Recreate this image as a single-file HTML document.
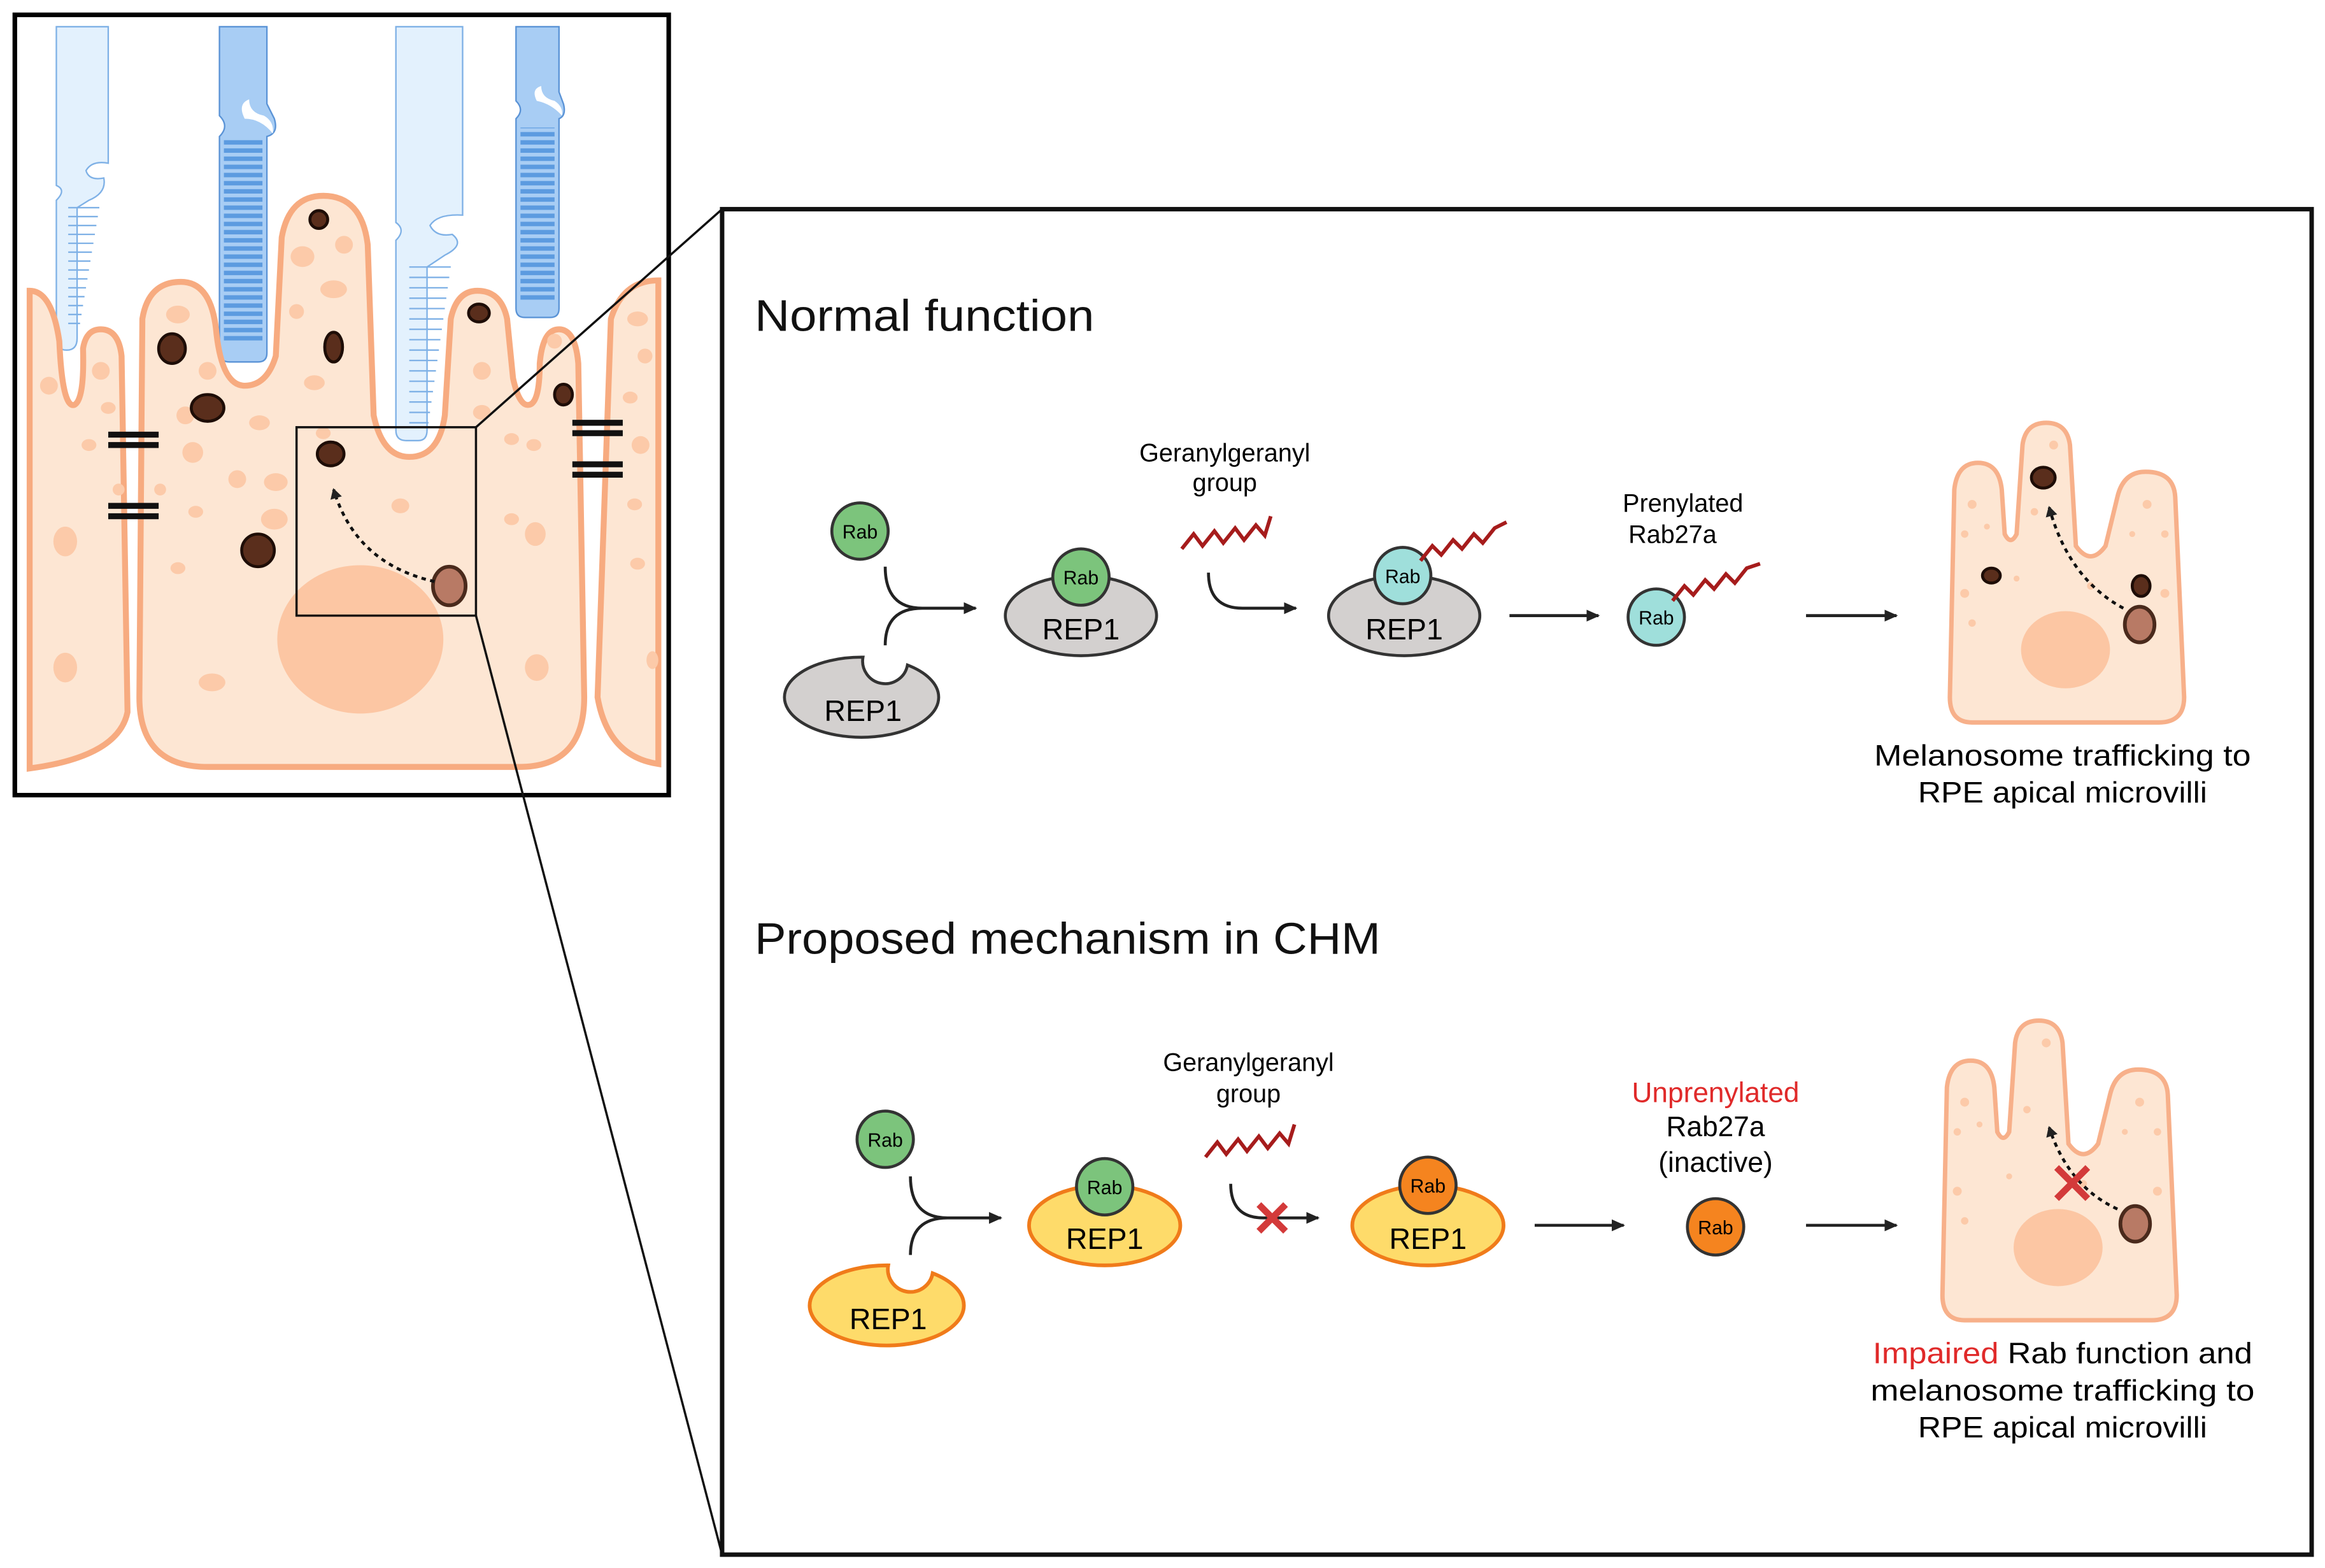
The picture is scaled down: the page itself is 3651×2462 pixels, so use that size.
<!DOCTYPE html>
<html><head><meta charset="utf-8"><style>html,body{margin:0;padding:0;background:#fff}svg{display:block}</style></head>
<body>
<svg width="3651" height="2462" viewBox="0 0 1568 1057" preserveAspectRatio="none" xmlns="http://www.w3.org/2000/svg" font-family="Liberation Sans, sans-serif">
<defs>
<marker id="ah" markerWidth="10" markerHeight="10" refX="8" refY="5" orient="auto" markerUnits="userSpaceOnUse"><path d="M0,1 L9,5 L0,9 Z" fill="#222"/></marker>
<marker id="ah2" markerWidth="8" markerHeight="8" refX="6" refY="4" orient="auto" markerUnits="userSpaceOnUse"><path d="M0,0 L7,4 L0,8 Z" fill="#222"/></marker>
<pattern id="cone" width="10" height="5.5" patternUnits="userSpaceOnUse"><rect width="10" height="5.5" fill="#a8cdf4"/><rect y="1" width="10" height="3" fill="#5c9be0"/></pattern>
<g id="cell">
<path d="M1330,487 Q1315,487 1315,470 L1318,330 Q1320,312 1334,312 Q1348,312 1350,330 L1352,360 Q1356,368 1360,360 L1364,300 Q1366,285 1380,285 Q1394,285 1396,300 L1400,368 Q1410,382 1420,368 L1428,335 Q1432,318 1447,318 Q1466,318 1467,335 L1473,470 Q1473,487 1456,487 Z" fill="#fde6d3" stroke="#f7b08a" stroke-width="3"/>
<g fill="#fccaa9"><circle cx="1330" cy="340" r="3"/><circle cx="1325" cy="360" r="2.5"/><circle cx="1340" cy="355" r="2"/><circle cx="1385" cy="300" r="3"/><circle cx="1372" cy="345" r="2.5"/><circle cx="1448" cy="340" r="3"/><circle cx="1460" cy="360" r="2.5"/><circle cx="1438" cy="360" r="2"/><circle cx="1325" cy="400" r="3"/><circle cx="1330" cy="420" r="2.5"/><circle cx="1460" cy="400" r="3"/><circle cx="1360" cy="390" r="2"/><circle cx="1410" cy="395" r="2.5"/></g>
<ellipse cx="1393" cy="438" rx="30" ry="26" fill="#fcc6a3"/>
</g>
</defs>

<!-- LEFT PANEL -->
<rect x="10" y="10" width="441" height="526" fill="#fff" stroke="#000" stroke-width="3"/>
<path d="M38,18 L38,125 Q45,128 38,135 L38,228 Q38,236 45,236 Q52,236 52,228 L52,140 L60,135 Q72,130 70,120 Q60,122 58,115 Q62,108 73,110 L73,18 Z" fill="#e3f1fd" stroke="#7fb1e6" stroke-width="1"/>
<g stroke="#7fb1e6" stroke-width="1" fill="none"><path d="M46,140 H67 M46,146 H66 M46,152 H65 M46,158 H64 M46,164 H63 M46,170 H62 M46,176 H61 M46,182 H60 M46,188 H59 M46,194 H58 M46,200 H57 M46,206 H56 M46,212 H55 M46,218 H54"/></g>
<path d="M148,18 L148,78 Q155,85 148,92 L148,238 Q148,244 155,244 L174,244 Q180,244 180,238 L180,92 Q188,90 185,80 L180,70 L180,18 Z" fill="#a8cdf4" stroke="#5a93d6" stroke-width="1"/>
<rect x="151" y="94" width="26" height="136" fill="url(#cone)"/>
<path d="M165,80 Q160,70 168,67 Q168,76 178,78 Q185,82 184,90 Q176,80 165,80Z" fill="#fff"/>
<path d="M267,18 L267,150 Q274,155 267,162 L267,290 Q267,297 274,297 L282,297 Q288,297 288,290 L288,180 L300,172 Q314,165 305,158 Q294,160 290,152 Q295,144 312,145 L312,18 Z" fill="#e3f1fd" stroke="#7fb1e6" stroke-width="1"/>
<g stroke="#7fb1e6" stroke-width="1" fill="none"><path d="M276,180 H304 M276,187 H303 M276,194 H302 M276,201 H301 M276,208 H300 M276,215 H299 M276,222 H298 M276,229 H297 M276,236 H296 M276,243 H295 M276,250 H294 M276,257 H293 M276,264 H292 M276,271 H291 M276,278 H290 M276,285 H289"/></g>
<path d="M348,18 L348,68 Q354,74 348,80 L348,208 Q348,214 354,214 L371,214 Q377,214 377,208 L377,80 Q382,78 380,70 L377,62 L377,18 Z" fill="#a8cdf4" stroke="#5a93d6" stroke-width="1"/>
<rect x="351" y="86" width="23" height="118" fill="url(#cone)"/>
<path d="M362,68 Q358,60 365,58 Q365,66 374,68 Q380,72 379,78 Q372,70 362,68Z" fill="#fff"/>
<path d="M20,196 Q35,196 40,230 Q42,275 50,273 Q57,270 56,235 Q58,222 68,222 Q80,222 82,240 L86,480 Q80,510 20,518 Z" fill="#fde6d3" stroke="#f7ab80" stroke-width="4"/>
<path d="M444,189 Q420,189 412,215 L403,470 Q410,510 444,515 Z" fill="#fde6d3" stroke="#f7ab80" stroke-width="4"/>
<path d="M94,470 L96,215 Q100,190 122,190 Q143,190 146,225 Q150,260 165,260 Q180,260 186,240 L190,160 Q195,132 218,132 Q244,132 248,165 L252,280 Q258,308 276,308 Q296,308 300,280 L304,215 Q308,196 322,196 Q338,196 342,215 L346,255 Q350,273 356,273 Q364,273 364,245 Q366,222 377,222 Q388,222 390,245 L394,470 Q394,517 350,517 L140,517 Q94,517 94,470 Z" fill="#fde6d3" stroke="#f7ab80" stroke-width="4"/>
<g fill="#fccaa9">
<ellipse cx="44" cy="365" rx="8" ry="10"/><ellipse cx="44" cy="450" rx="8" ry="10"/><ellipse cx="33" cy="260" rx="6" ry="6"/><ellipse cx="68" cy="250" rx="6" ry="6"/><ellipse cx="60" cy="300" rx="5" ry="4"/><ellipse cx="73" cy="275" rx="5" ry="4"/><ellipse cx="80" cy="330" rx="4" ry="4"/>
<ellipse cx="120" cy="212" rx="8" ry="6"/><ellipse cx="204" cy="173" rx="8" ry="7"/><ellipse cx="225" cy="195" rx="9" ry="6"/><ellipse cx="232" cy="165" rx="6" ry="6"/><ellipse cx="200" cy="210" rx="5" ry="5"/><ellipse cx="212" cy="258" rx="7" ry="5"/><ellipse cx="140" cy="250" rx="6" ry="6"/><ellipse cx="125" cy="280" rx="6" ry="6"/><ellipse cx="130" cy="305" rx="7" ry="7"/><ellipse cx="160" cy="323" rx="6" ry="6"/><ellipse cx="175" cy="285" rx="7" ry="5"/><ellipse cx="186" cy="325" rx="8" ry="6"/><ellipse cx="132" cy="345" rx="5" ry="4"/><ellipse cx="185" cy="350" rx="9" ry="7"/><ellipse cx="120" cy="383" rx="5" ry="4"/><ellipse cx="143" cy="460" rx="9" ry="6"/><ellipse cx="218" cy="292" rx="5" ry="4"/><ellipse cx="270" cy="341" rx="6" ry="5"/><ellipse cx="108" cy="330" rx="4" ry="4"/>
<ellipse cx="325" cy="250" rx="6" ry="6"/><ellipse cx="325" cy="278" rx="6" ry="5"/><ellipse cx="345" cy="296" rx="5" ry="4"/><ellipse cx="360" cy="300" rx="5" ry="4"/><ellipse cx="345" cy="350" rx="5" ry="4"/><ellipse cx="361" cy="360" rx="7" ry="8"/><ellipse cx="362" cy="450" rx="8" ry="9"/><ellipse cx="374" cy="230" rx="5" ry="5"/>
<ellipse cx="430" cy="215" rx="7" ry="5"/><ellipse cx="435" cy="240" rx="5" ry="5"/><ellipse cx="425" cy="268" rx="5" ry="4"/><ellipse cx="432" cy="300" rx="6" ry="6"/><ellipse cx="428" cy="340" rx="5" ry="4"/><ellipse cx="430" cy="380" rx="5" ry="4"/><ellipse cx="440" cy="445" rx="4" ry="6"/>
</g>
<ellipse cx="243" cy="431" rx="56" ry="50" fill="#fcc6a3"/>
<g fill="#5a2e1c" stroke="#1e0d06" stroke-width="2">
<ellipse cx="215" cy="148" rx="6" ry="6"/><ellipse cx="116" cy="235" rx="9" ry="10"/><ellipse cx="225" cy="234" rx="6" ry="10"/><ellipse cx="140" cy="275" rx="11" ry="9"/><ellipse cx="323" cy="211" rx="7" ry="6"/><ellipse cx="380" cy="266" rx="6" ry="7"/><ellipse cx="223" cy="306" rx="9" ry="8"/><ellipse cx="174" cy="371" rx="11" ry="11"/>
</g>
<ellipse cx="303" cy="395" rx="11" ry="13" fill="#b87a65" stroke="#4a2a1c" stroke-width="2.5"/>
<path d="M293,392 Q240,380 225,330" fill="none" stroke="#111" stroke-width="2" stroke-dasharray="3,3" marker-end="url(#ah2)"/>
<g fill="#111"><rect x="73" y="291" width="34" height="4"/><rect x="73" y="298" width="34" height="4"/><rect x="73" y="339" width="34" height="4"/><rect x="73" y="346" width="34" height="4"/><rect x="386" y="283" width="34" height="4"/><rect x="386" y="290" width="34" height="4"/><rect x="386" y="311" width="34" height="4"/><rect x="386" y="318" width="34" height="4"/></g>
<rect x="10" y="10" width="441" height="526" fill="none" stroke="#000" stroke-width="3"/>
<rect x="200" y="288" width="121" height="127" fill="none" stroke="#111" stroke-width="1.5"/>
<line x1="321" y1="288" x2="487" y2="141" stroke="#111" stroke-width="1.5"/>
<line x1="321" y1="415" x2="487" y2="1048" stroke="#111" stroke-width="1.5"/>

<!-- RIGHT PANEL -->
<rect x="487" y="141" width="1072" height="907" fill="#fff" stroke="#111" stroke-width="3"/>
<text x="509" y="223" font-size="30" fill="#111" textLength="229" lengthAdjust="spacingAndGlyphs">Normal function</text>
<text x="509" y="643" font-size="30" fill="#111" textLength="422" lengthAdjust="spacingAndGlyphs">Proposed mechanism in CHM</text>

<!-- Row 1 -->
<circle cx="580" cy="358" r="19" fill="#7cc47c" stroke="#333" stroke-width="2"/><text x="580" y="363" font-size="13" text-anchor="middle">Rab</text>
<path d="M612,448.3 A52,27 0 1,1 582,443 A15,15 0 0,0 612,448.3 Z" fill="#d3d0cf" stroke="#333" stroke-width="2"/>
<text x="582" y="486" font-size="20" text-anchor="middle">REP1</text>
<path d="M597,382 Q597,410 622,410 M597,435 Q597,410 622,410 L658,410" fill="none" stroke="#222" stroke-width="2" marker-end="url(#ah)"/>
<ellipse cx="729" cy="415" rx="51" ry="27" fill="#d3d0cf" stroke="#333" stroke-width="2"/>
<circle cx="729" cy="389" r="19" fill="#7cc47c" stroke="#333" stroke-width="2"/><text x="729" y="394" font-size="13" text-anchor="middle">Rab</text>
<text x="729" y="431" font-size="20" text-anchor="middle">REP1</text>
<text x="826" y="311" font-size="17" text-anchor="middle">Geranylgeranyl</text><text x="826" y="331" font-size="17" text-anchor="middle">group</text>
<polyline points="797,370 805,360 811,368 819,358 825,366 833,356 839,364 847,354 853,361 857,348" fill="none" stroke="#a61c1c" stroke-width="2.5"/>
<path d="M815,386 Q815,410 838,410 L874,410" fill="none" stroke="#222" stroke-width="2" marker-end="url(#ah)"/>
<ellipse cx="947" cy="415" rx="51" ry="27" fill="#d3d0cf" stroke="#333" stroke-width="2"/>
<circle cx="946" cy="388" r="19" fill="#9fdfdb" stroke="#333" stroke-width="2"/><text x="946" y="393" font-size="13" text-anchor="middle">Rab</text>
<polyline points="958,378 966,368 972,374 980,364 986,370 994,360 1000,366 1008,356 1016,352" fill="none" stroke="#a61c1c" stroke-width="2.5"/>
<text x="947" y="431" font-size="20" text-anchor="middle">REP1</text>
<line x1="1018" y1="415" x2="1078" y2="415" stroke="#222" stroke-width="2" marker-end="url(#ah)"/>
<text x="1135" y="345" font-size="17" text-anchor="middle">Prenylated</text><text x="1128" y="366" font-size="17" text-anchor="middle">Rab27a</text>
<circle cx="1117" cy="416" r="19" fill="#9fdfdb" stroke="#333" stroke-width="2"/><text x="1117" y="421" font-size="13" text-anchor="middle">Rab</text>
<polyline points="1128,405 1136,395 1142,401 1150,391 1156,397 1164,387 1170,393 1178,383 1187,380" fill="none" stroke="#a61c1c" stroke-width="2.5"/>
<line x1="1218" y1="415" x2="1279" y2="415" stroke="#222" stroke-width="2" marker-end="url(#ah)"/>
<use href="#cell"/>
<g fill="#5a2e1c" stroke="#1e0d06" stroke-width="2"><ellipse cx="1378" cy="322" rx="8" ry="7"/><ellipse cx="1343" cy="388" rx="6" ry="5"/><ellipse cx="1444" cy="395" rx="6" ry="7"/></g>
<ellipse cx="1443" cy="421" rx="10" ry="12" fill="#b87a65" stroke="#4a2a1c" stroke-width="2.5"/>
<path d="M1432,410 Q1395,390 1382,342" fill="none" stroke="#111" stroke-width="2" stroke-dasharray="3,3" marker-end="url(#ah2)"/>
<text x="1391" y="516" font-size="20" text-anchor="middle" textLength="254" lengthAdjust="spacingAndGlyphs">Melanosome trafficking to</text>
<text x="1391" y="541" font-size="20" text-anchor="middle" textLength="195" lengthAdjust="spacingAndGlyphs">RPE apical microvilli</text>

<!-- Row 2 -->
<circle cx="597" cy="768" r="19" fill="#7cc47c" stroke="#333" stroke-width="2"/><text x="597" y="773" font-size="13" text-anchor="middle">Rab</text>
<path d="M629,858.3 A52,27 0 1,1 599,853 A15,15 0 0,0 629,858.3 Z" fill="#fedb6a" stroke="#f07b1a" stroke-width="2.5"/>
<text x="599" y="896" font-size="20" text-anchor="middle">REP1</text>
<path d="M614,793 Q614,821 639,821 M614,846 Q614,821 639,821 L675,821" fill="none" stroke="#222" stroke-width="2" marker-end="url(#ah)"/>
<ellipse cx="745" cy="826" rx="51" ry="27" fill="#fedb6a" stroke="#f07b1a" stroke-width="2.5"/>
<circle cx="745" cy="800" r="19" fill="#7cc47c" stroke="#333" stroke-width="2"/><text x="745" y="805" font-size="13" text-anchor="middle">Rab</text>
<text x="745" y="842" font-size="20" text-anchor="middle">REP1</text>
<text x="842" y="722" font-size="17" text-anchor="middle">Geranylgeranyl</text><text x="842" y="743" font-size="17" text-anchor="middle">group</text>
<polyline points="813,780 821,770 827,778 835,768 841,776 849,766 855,774 863,764 869,771 873,758" fill="none" stroke="#a61c1c" stroke-width="2.5"/>
<path d="M830,798 Q830,821 852,821 L889,821" fill="none" stroke="#222" stroke-width="2" marker-end="url(#ah)"/>
<path d="M849,812 L867,830 M867,812 L849,830" stroke="#d33a3a" stroke-width="4.5"/>
<ellipse cx="963" cy="826" rx="51" ry="27" fill="#fedb6a" stroke="#f07b1a" stroke-width="2.5"/>
<circle cx="963" cy="799" r="19" fill="#f5841f" stroke="#333" stroke-width="2"/><text x="963" y="804" font-size="13" text-anchor="middle">Rab</text>
<text x="963" y="842" font-size="20" text-anchor="middle">REP1</text>
<line x1="1035" y1="826" x2="1095" y2="826" stroke="#222" stroke-width="2" marker-end="url(#ah)"/>
<text x="1157" y="743" font-size="19" text-anchor="middle" fill="#e02a2a">Unprenylated</text>
<text x="1157" y="766" font-size="19" text-anchor="middle">Rab27a</text>
<text x="1157" y="790" font-size="19" text-anchor="middle">(inactive)</text>
<circle cx="1157" cy="827" r="19" fill="#f5841f" stroke="#333" stroke-width="2"/><text x="1157" y="832" font-size="13" text-anchor="middle">Rab</text>
<line x1="1218" y1="826" x2="1279" y2="826" stroke="#222" stroke-width="2" marker-end="url(#ah)"/>
<use href="#cell" transform="translate(-5,403)"/>
<ellipse cx="1440" cy="825" rx="10" ry="12" fill="#b87a65" stroke="#4a2a1c" stroke-width="2.5"/>
<path d="M1428,815 Q1395,800 1382,760" fill="none" stroke="#111" stroke-width="2" stroke-dasharray="3,3" marker-end="url(#ah2)"/>
<path d="M1387,787 L1408,808 M1408,787 L1387,808" stroke="#d33a3a" stroke-width="4.5"/>
<text x="1391" y="919" font-size="20" text-anchor="middle" textLength="256" lengthAdjust="spacingAndGlyphs"><tspan fill="#e02a2a">Impaired</tspan> Rab function and</text>
<text x="1391" y="944" font-size="20" text-anchor="middle" textLength="259" lengthAdjust="spacingAndGlyphs">melanosome  trafficking to</text>
<text x="1391" y="969" font-size="20" text-anchor="middle" textLength="195" lengthAdjust="spacingAndGlyphs">RPE apical microvilli</text>
</svg>
</body></html>
